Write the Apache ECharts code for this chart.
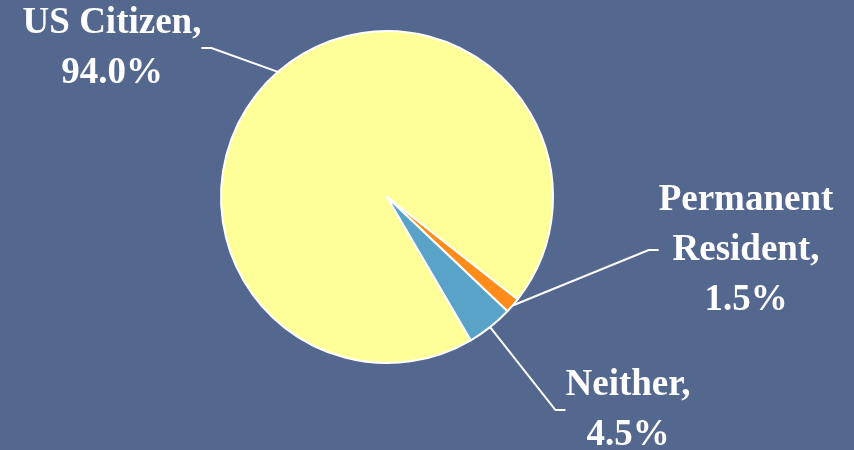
<!DOCTYPE html>
<html><head><meta charset="utf-8">
<script src="https://cdn.jsdelivr.net/npm/echarts@6/dist/echarts.min.js"></script>
<style>html,body{margin:0;padding:0;background:#54688f;}#c{width:854px;height:450px;}</style>
</head><body><div id="c"></div>
<script>
const categories = ["US Citizen", "Permanent Resident", "Neither"];
const values = [94.0, 1.5, 4.5];
const labelNames = ["US Citizen,", "Permanent\nResident,", "Neither,"];
const colors = ["#ffff99", "#ff8c1a", "#5aa3c8"];
const labelPos = [[112, 48], [746, 250], [628, 410]];

const chart = echarts.init(document.getElementById('c'), null, {renderer: 'canvas'});
chart.setOption({
  backgroundColor: '#54688f',
  animation: false,
  series: [{
    type: 'pie',
    center: [387, 197],
    radius: 166,
    startAngle: -59.7,
    clockwise: true,
    data: categories.map((c, i) => ({name: c, value: values[i], itemStyle: {color: colors[i]}})),
    itemStyle: {borderColor: '#ffffff', borderWidth: 2},
    label: {
      show: true,
      formatter: p => labelNames[p.dataIndex] + '\n' + values[p.dataIndex].toFixed(1) + '%',
      color: '#ffffff',
      fontFamily: 'Liberation Serif',
      fontWeight: 'bold',
      fontSize: 37,
      lineHeight: 50,
      align: 'center'
    },
    labelLine: {show: true, lineStyle: {color: '#ffffff', width: 2}, length: 20, length2: 10},
    labelLayout: function (p) {
      const pos = labelPos[p.dataIndex];
      return {x: pos[0], y: pos[1], align: 'center', verticalAlign: 'middle', moveOverlap: null};
    }
  }]
});
</script></body></html>
